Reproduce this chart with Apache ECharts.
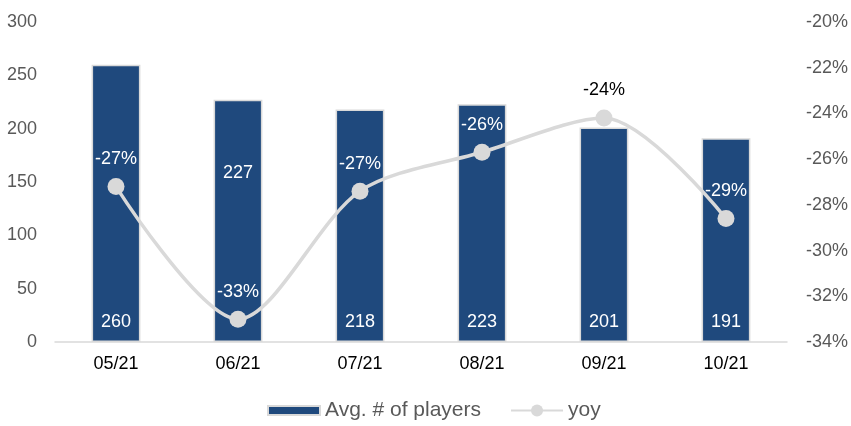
<!DOCTYPE html>
<html>
<head>
<meta charset="utf-8">
<style>
  html, body { margin: 0; padding: 0; background: #ffffff; }
  #chart { width: 851px; height: 426px; }
</style>
<script src="https://cdn.jsdelivr.net/npm/echarts@6/dist/echarts.min.js"></script>
</head>
<body>
<div id="chart"></div>
<script>
// Monthly averages and year-over-year change (in percent)
const months = ['05/21', '06/21', '07/21', '08/21', '09/21', '10/21'];
const avgPlayers = [260, 227, 218, 223, 201, 191];
const yoyPct = [-27.2, -33.0, -27.4, -25.7, -24.2, -28.6];
const leftTicks = { min: 0, max: 300, interval: 50 };
const rightTicks = { min: -34, max: -20, interval: 2 };

const FONT = '"Liberation Sans", Arial, sans-serif';
const BAR_BLUE = '#1f497d';
const LINE_GREY = '#d9d9d9';

const chart = echarts.init(document.getElementById('chart'), null, { renderer: 'canvas' });

// The 06/21 value label is lifted clear of the yoy marker near the bar's foot
const barData = avgPlayers.map((v, i) => (
  i === 1 ? { value: v, label: { distance: 160 } } : v
));

// The 09/21 label sits above its bar on white, so it is drawn in black
const yoyData = yoyPct.map((v, i) => ({
  value: v,
  label: { color: i === 4 ? '#000000' : '#ffffff' }
}));

chart.setOption({
  animation: false,
  textStyle: { fontFamily: FONT },
  grid: { left: 55, right: 62, top: 22, bottom: 84 },
  legend: {
    bottom: 0,
    left: 262,
    itemWidth: 52,
    itemHeight: 15,
    itemGap: 29,
    textStyle: { fontFamily: FONT, fontSize: 21, color: '#595959' },
    data: [
      { name: 'Avg. # of players', icon: 'path://M0,0H52V9H0Z' },
      { name: 'yoy' }
    ]
  },
  xAxis: {
    type: 'category',
    data: months,
    axisTick: { show: false },
    axisLine: { lineStyle: { color: LINE_GREY, width: 1.5 } },
    axisLabel: { color: '#000000', fontSize: 18, fontFamily: FONT, margin: 13 }
  },
  yAxis: [
    {
      type: 'value',
      min: leftTicks.min,
      max: leftTicks.max,
      interval: leftTicks.interval,
      splitLine: { show: false },
      axisLine: { show: false },
      axisTick: { show: false },
      axisLabel: { color: '#595959', fontSize: 18, fontFamily: FONT, margin: 18 }
    },
    {
      type: 'value',
      min: rightTicks.min,
      max: rightTicks.max,
      interval: rightTicks.interval,
      position: 'right',
      splitLine: { show: false },
      axisLine: { show: false },
      axisTick: { show: false },
      axisLabel: {
        color: '#595959', fontSize: 18, fontFamily: FONT, margin: 19,
        formatter: v => v + '%'
      }
    }
  ],
  series: [
    {
      name: 'Avg. # of players',
      type: 'bar',
      yAxisIndex: 0,
      data: barData,
      barWidth: '40%',
      itemStyle: { color: BAR_BLUE, borderColor: LINE_GREY, borderWidth: 1.5 },
      label: {
        show: true,
        position: 'insideBottom',
        distance: 11,
        color: '#ffffff',
        fontSize: 18,
        fontFamily: FONT
      },
      z: 1
    },
    {
      name: 'yoy',
      type: 'line',
      yAxisIndex: 1,
      data: yoyData,
      smooth: 0.3,
      symbol: 'circle',
      symbolSize: 17,
      lineStyle: { color: LINE_GREY, width: 3.5 },
      itemStyle: { color: LINE_GREY },
      label: {
        show: true,
        position: 'top',
        distance: 10,
        fontSize: 18,
        fontFamily: FONT,
        formatter: p => Math.round(p.value) + '%'
      },
      z: 3
    }
  ]
});
</script>
</body>
</html>
